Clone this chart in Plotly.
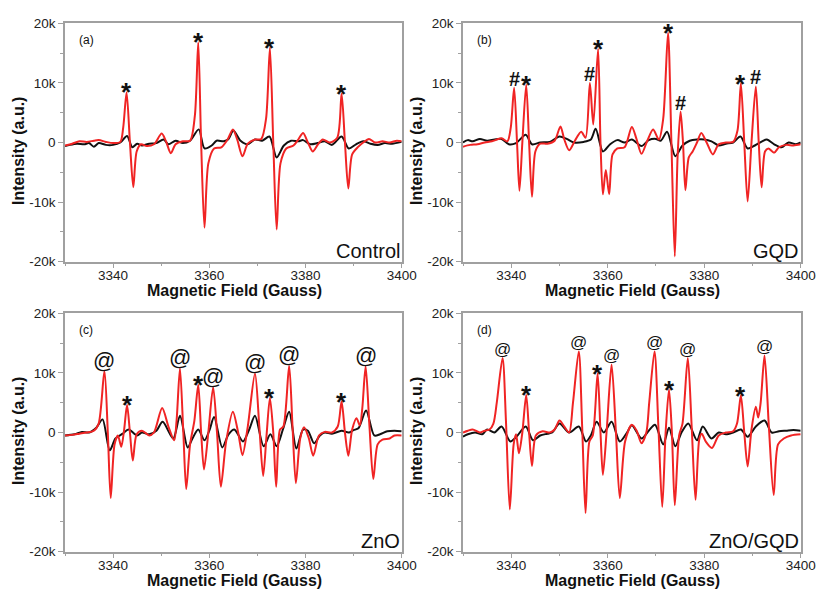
import plotly.graph_objects as go

# ---------------- EPR spectra (field in Gauss, intensity in k a.u.) ----------------
# (a) Control
ctrl_red_x = [3330, 3331.5, 3333, 3334.5, 3336, 3337, 3338.5, 3340, 3341.5, 3342.1, 3342.8, 3343.5, 3344.2, 3344.9,
              3345.8, 3347, 3348.5, 3350.1, 3351, 3352, 3353, 3354.5, 3356, 3357, 3357.7, 3358.3, 3359.0, 3359.8,
              3361, 3362.5, 3363.8, 3364.9, 3365.8, 3366.9, 3368, 3369.5, 3370.8, 3371.8, 3372.6, 3373.3, 3374.0,
              3374.8, 3376, 3377.5, 3378.5, 3379.5, 3380.5, 3381.5, 3382.6, 3383.6, 3385, 3386.6, 3387.5, 3388.2,
              3388.9, 3389.7, 3391, 3392, 3393.2, 3394.5, 3396, 3397.5, 3399, 3400]
ctrl_red_y = [-0.5, -0.2, 0.2, 0.1, 0.3, 0.4, 0.1, -0.1, 0.1, 2.5, 8.4, 0.0, -7.5, -1.5,
              -0.3, -0.6, -0.3, 1.5, 0.2, -1.8, -0.3, 0.2, 0.3, 4.5, 16.8, 0.0, -14.3, -3.5,
              -1.0, -0.8, 0.5, 2.2, 0.5, -2.3, -0.2, 0.5, 0.6, 4.0, 15.9, 0.0, -14.6,
              -3.5, -1.0, -0.5, 0.5, 1.6, 0.0, -1.5, -0.3, 0.5, 0.0, 0.8, 8.2, 0.0,
              -7.7, -2.0, -0.7, 0.0, 0.6, 0.0, 0.2, 0.0, 0.3, 0.2]
ctrl_blk_x = [3330, 3331, 3332.5, 3334, 3335, 3336, 3337, 3338.5, 3340, 3341.5, 3342.9, 3344, 3345, 3346, 3347.5,
              3349, 3350.5, 3351.5, 3353, 3354.5, 3356, 3357.8, 3359, 3360.5, 3361.5, 3363, 3364, 3365, 3366.5,
              3368, 3369.5, 3371, 3372.5, 3374.0, 3375.5, 3377, 3378.5, 3379.5, 3381, 3382.5, 3384, 3385.5,
              3387.5, 3389, 3390.5, 3392, 3393.5, 3395, 3396.5, 3398, 3400]
ctrl_blk_y = [-0.6, -0.4, -0.2, -0.3, -0.1, -0.7, -0.1, -0.4, -0.4, 0.0, 1.1, -0.8, -0.2, -0.5, -0.2,
              -0.1, 0.5, -0.3, 0.3, -0.1, 0.3, 2.2, -1.0, -0.5, 0.3, 0.2, 0.6, 2.0, 0.3,
              -0.3, 0.5, 0.3, 1.0, -2.5, -0.5, 0.3, 0.2, 0.4, -0.3, -0.1, 0.2, -0.4,
              1.0, -1.0, -0.3, 0.2, -0.2, -0.4, -0.1, -0.2, 0.1]

# (b) GQD
gqd_red_x = [3330, 3331.5, 3333, 3334.5, 3336, 3338, 3339.2, 3339.9, 3340.6, 3341.2, 3341.7, 3342.3, 3343.1, 3343.7,
             3344.3, 3345.0, 3346, 3347.5, 3349, 3350.2, 3351, 3352, 3353.2, 3354.5, 3355.4, 3356.3, 3357.0,
             3358.0, 3358.5, 3359.0, 3359.6, 3360.3, 3361, 3362, 3363.5, 3365.0, 3366, 3367.0, 3368.2, 3369.4,
             3370.6, 3371.5, 3372.5, 3373.2, 3373.9, 3374.5, 3375.1, 3375.6, 3376.1, 3376.8, 3377.6, 3378.5,
             3379.4, 3380.5, 3381.8, 3383, 3384.5, 3386, 3386.9, 3387.6, 3388.3, 3389.0, 3389.8, 3390.7,
             3391.3, 3391.9, 3392.6, 3393.3, 3394.5, 3395.5, 3397, 3398.5, 3400]
gqd_red_y = [-0.7, -0.4, -0.3, 0.0, 0.2, 0.7, 0.2, 2.5, 9.2, 0.0, -8.1, 0.0, 9.7, 0.0,
             -9.1, -1.5, -0.2, -0.2, 0.3, 2.7, 0.5, -1.3, 0.3, 1.8, 0.8, 10.0, 3.0,
             15.7, 0.0, -8.7, -4.6, -8.7, -2.0, -1.0, -0.8, 2.6, 0.5, -1.9, 0.3, 2.2,
             0.5, 4.0, 18.4, 0.0, -19.1, -2.0, 5.2, 0.0, -8.0, -2.5, -1.5, 0.0,
             1.6, 0.0, -2.0, -0.3, 0.0, 0.1, 2.0, 9.9, 0.0, -9.9, 0.0, 9.4,
             0.0, -7.5, -1.5, -1.0, -1.7, -0.8, -0.4, -0.5, -0.3]
gqd_blk_x = [3330, 3331, 3332, 3333.5, 3335, 3336.5, 3338, 3339.5, 3341, 3343, 3344.3, 3346, 3348, 3350, 3351.5,
             3353, 3355, 3356.5, 3357.5, 3359, 3360.5, 3362, 3363.5, 3365, 3367, 3368.5, 3370, 3371, 3372.3,
             3374, 3375.5, 3377, 3378.5, 3380, 3381.5, 3383, 3384.5, 3386, 3387.5, 3389, 3390.5, 3392, 3393,
             3394.5, 3396, 3397.5, 3399, 3400]
gqd_blk_y = [0.0, 0.4, 0.2, 0.6, 0.3, 0.5, 0.6, -0.3, -0.1, 1.3, -0.3, 0.0, 0.1, 1.0, 0.6,
             0.0, 0.1, 0.5, 2.3, -1.5, -0.3, 0.4, 0.0, 0.5, -0.6, 0.4, 0.6, 0.3, 1.8,
             -2.3, -0.5, 0.3, 0.5, 0.5, 0.2, -0.5, -0.2, 0.0, 1.0, -1.0, -0.5, 0.2, 0.5,
             -0.3, -0.8, 0.0, -0.3, 0.0]

# (c) ZnO
zno_red_x = [3330, 3331.5, 3333, 3334.5, 3336, 3337.0, 3338.2, 3338.9, 3339.5, 3340.3, 3341.0, 3341.7, 3342.3,
             3342.9, 3343.5, 3344.1, 3344.9, 3346, 3347.5, 3348.5, 3350.2, 3351.5, 3352.7, 3353.2, 3353.9,
             3354.6, 3355.2, 3356, 3356.9, 3357.7, 3358.3, 3358.9, 3359.8, 3360.8, 3361.6, 3362.4, 3363.5,
             3364.9, 3366.0, 3366.9, 3368.0, 3369.5, 3370.4, 3371.2, 3371.9, 3372.6, 3373.3, 3373.9, 3374.7,
             3375.4, 3376.6, 3377.3, 3378.0, 3378.9, 3379.7, 3380.7, 3381.6, 3382.8, 3384, 3385.5, 3386.7,
             3387.5, 3388.2, 3388.9, 3389.7, 3390.6, 3391.3, 3391.8, 3392.5, 3393.3, 3394.1, 3395.0, 3396,
             3397.5, 3398.5, 3400]
zno_red_y = [-0.5, -0.4, -0.2, 0.0, 0.3, 1.5, 10.3, 0.0, -11.0, -2.0, -0.5, -2.4, 0.5,
             4.6, 0.0, -4.7, -0.3, 0.3, -0.5, 0.0, 4.1, 1.0, -1.3, 2.0, 10.8,
             0.0, -9.5, -2.0, 2.0, 8.0, 0.0, -6.2, 0.0, 7.6, 0.0, -9.1, -1.5,
             3.5, 0.0, -3.8, 1.0, 9.9, 1.0, -7.3, -0.5, 5.8, 0.0, -9.1, 0.5,
             1.0, 11.2, 1.0, -8.5, -1.0, 0.9, -1.0, -3.9, -0.5, 0.1, 0.0, 1.0,
             5.2, 0.0, -3.9, 0.5, 2.4, 1.2, 4.0, 11.1, 1.0, -7.8, -2.0, -1.2,
             -1.0, -0.5, -0.5]
zno_blk_x = [3330, 3332, 3333.5, 3335, 3336.5, 3337.8, 3339.3, 3340.5, 3342, 3343.2, 3345, 3346, 3347.5, 3349,
             3350.3, 3352.5, 3353.9, 3355.5, 3356.5, 3357.7, 3359, 3360.0, 3361.0, 3362.7, 3364, 3365.2, 3367,
             3368.3, 3369.5, 3371.3, 3372.7, 3374.0, 3375.3, 3376.6, 3378.1, 3379.5, 3380.5, 3381.8, 3383,
             3384, 3385.5, 3387.5, 3389, 3390, 3391, 3392.6, 3394.3, 3395.5, 3397, 3398.5, 3400]
zno_blk_y = [-0.5, -0.3, 0.1, 0.0, 0.8, 2.2, -3.0, -1.0, -0.2, 0.5, -0.5, 0.0, -0.3, 0.3,
             1.8, -1.0, 2.8, -2.5, -1.0, 0.5, -1.3, 0.3, 2.6, -2.5, -0.3, 0.5, -1.5,
             0.5, 2.8, -2.3, -0.3, -2.3, 0.5, 3.5, -2.7, 0.5, 0.3, -1.8, -0.5,
             0.0, -0.2, 0.3, 0.0, 0.4, 0.7, 3.7, -0.5, -0.3, 0.2, 0.3, 0.2]

# (d) ZnO/GQD
zg_red_x = [3330, 3331, 3332, 3333.5, 3334.5, 3335.5, 3336.3, 3337.0, 3338.2, 3338.9, 3339.7, 3340.5, 3341.0,
            3341.6, 3342.3, 3343.1, 3343.7, 3344.3, 3345.1, 3346.5, 3348, 3349, 3350.0, 3351, 3352, 3352.8,
            3354.0, 3354.7, 3355.4, 3356.2, 3356.9, 3357.9, 3358.5, 3359.0, 3359.8, 3360.8, 3361.7, 3362.5,
            3363.6, 3365.0, 3366, 3367.0, 3368.0, 3368.6, 3369.7, 3370.5, 3371.3, 3372.0, 3372.7, 3373.3,
            3373.9, 3374.8, 3375.5, 3376.6, 3377.4, 3378.2, 3379.0, 3379.5, 3380.3, 3381.6, 3383, 3384.5,
            3386, 3386.8, 3387.6, 3388.3, 3389.0, 3389.8, 3390.7, 3391.2, 3391.7, 3392.5, 3393.4, 3394.4,
            3395.3, 3396.5, 3398, 3400]
zg_red_y = [0.0, 0.3, 0.5, 0.0, 0.3, 0.5, 1.5, 5.0, 12.5, 2.0, -12.9, -2.0, -0.3,
            -3.5, 0.0, 6.3, 0.0, -5.6, -0.5, 0.2, 0.0, 0.5, 2.0, 1.0, 0.0, 5.0,
            13.6, 1.0, -13.5, -1.5, -0.5, 9.9, 0.0, -7.1, 0.5, 11.4, 0.0, -11.0,
            -1.5, 1.3, 0.3, -1.8, 0.0, 5.0, 13.6, 1.0, -12.5, 0.0, 7.2, 0.0,
            -12.2, -0.5, 1.5, 12.5, 1.0, -11.3, -1.0, -0.2, -1.5, -2.6, -0.5, 0.0,
            0.2, 1.5, 6.2, 0.0, -5.7, 0.5, 4.3, 2.5, 5.0, 12.9, 1.0, -10.5,
            -2.0, -1.0, -0.5, -0.3]
zg_blk_x = [3330, 3331, 3332.5, 3334, 3335, 3336.5, 3338.0, 3339.8, 3341, 3343.0, 3344.5, 3346, 3347.5, 3348.5,
            3350.0, 3352.0, 3354.0, 3355.5, 3356.5, 3357.7, 3359.2, 3360.8, 3362.5, 3364, 3365.0, 3367.0,
            3368.5, 3369.8, 3371.5, 3372.7, 3374.0, 3375.3, 3376.7, 3378.5, 3379.7, 3381.5, 3383, 3384.5,
            3386, 3387.6, 3389.0, 3390.7, 3392.5, 3394.0, 3395.5, 3397, 3398.5, 3400]
zg_blk_y = [-0.7, -0.3, 0.0, -0.3, 0.5, 0.0, 1.0, -1.5, -0.8, 1.0, -1.3, -0.5, -0.2, 0.0,
            1.5, 0.0, 1.0, -1.5, -0.5, 1.8, 0.0, 1.8, -1.5, 0.0, 1.2, -1.0,
            0.3, 1.3, -2.0, 0.8, -2.3, 0.0, 1.5, -1.3, 1.0, -1.0, 0.0, -0.3,
            0.0, 0.5, -0.7, 1.0, 2.0, 0.0, 0.2, 0.3, 0.4, 0.3]

# peak markers: field position and symbol
ctrl_marks = [(3342.8, "*"), (3357.7, "*"), (3372.6, "*"), (3387.5, "*")]
gqd_marks = [(3340.6, "#"), (3343.1, "*"), (3356.3, "#"), (3358.0, "*"), (3372.5, "*"),
             (3375.1, "#"), (3387.6, "*"), (3390.7, "#")]
zno_marks = [(3338.2, "@"), (3342.9, "*"), (3353.9, "@"), (3357.7, "*"), (3360.8, "@"),
             (3369.5, "@"), (3372.6, "*"), (3376.6, "@"), (3387.5, "*"), (3392.5, "@")]
zg_marks = [(3338.2, "@"), (3343.1, "*"), (3354.0, "@"), (3357.9, "*"), (3360.8, "@"),
            (3369.7, "@"), (3372.7, "*"), (3376.6, "@"), (3387.6, "*"), (3392.5, "@")]

panel_tags = ["(a)", "(b)", "(c)", "(d)"]
sample_names = ["Control", "GQD", "ZnO", "ZnO/GQD"]
x_title = "Magnetic Field (Gauss)"
y_title = "Intensity (a.u.)"

y_tick_vals = [-20000, -10000, 0, 10000, 20000]
y_tick_text = ["-20k", "-10k", "0", "10k", "20k"]
x_tick_vals = [3340, 3360, 3380, 3400]

RED = "#F02424"
BLACK = "#111111"
AXIS = "#A0A0A0"
FONT = "Liberation Sans, Arial, sans-serif"

panels = [
    (ctrl_red_x, ctrl_red_y, ctrl_blk_x, ctrl_blk_y, ctrl_marks, 22),
    (gqd_red_x, gqd_red_y, gqd_blk_x, gqd_blk_y, gqd_marks, 22),
    (zno_red_x, zno_red_y, zno_blk_x, zno_blk_y, zno_marks, 22),
    (zg_red_x, zg_red_y, zg_blk_x, zg_blk_y, zg_marks, 17),
]

W, H = 816, 589
# plot-area boxes in pixels: (left, right, top, bottom)
boxes = [(65, 401.7, 23.3, 261.7), (463, 800.7, 23.3, 261.7),
         (65, 401.7, 313.3, 551.7), (463, 800.7, 313.3, 551.7)]
# vertical centre of the rotated y titles for each panel
y_title_mid = [151, 151, 431, 431]

fig = go.Figure()
layout = {}
annotations = []

for i, ((rx, ry, bx, by, marks, at_size), (l, r, t, b)) in enumerate(zip(panels, boxes)):
    n = "" if i == 0 else str(i + 1)
    xa, ya = "x" + n, "y" + n
    fig.add_trace(go.Scatter(x=bx, y=[v * 1000 for v in by], mode="lines",
                             line=dict(color=BLACK, width=2, shape="spline", smoothing=0.8),
                             xaxis=xa, yaxis=ya, showlegend=False, hoverinfo="skip"))
    fig.add_trace(go.Scatter(x=rx, y=[v * 1000 for v in ry], mode="lines",
                             line=dict(color=RED, width=2, shape="spline", smoothing=0.8),
                             xaxis=xa, yaxis=ya, showlegend=False, hoverinfo="skip"))

    common = dict(showline=True, linecolor=AXIS, linewidth=1.5, mirror=True, showgrid=False,
                  zeroline=False, ticks="outside", ticklen=5, tickwidth=1.2, tickcolor=AXIS,
                  automargin=False, tickfont=dict(family=FONT, size=13.5, color="#222222"))
    layout["xaxis" + n] = dict(
        common, domain=[l / W, r / W], anchor=ya, range=[3330, 3400],
        tickvals=x_tick_vals, ticklabelstandoff=-5,
        minor=dict(dtick=10, tick0=3330, ticks="outside", ticklen=3, tickcolor=AXIS))
    layout["yaxis" + n] = dict(
        common, domain=[1 - b / H, 1 - t / H], anchor=xa, range=[-20000, 20000],
        tickvals=y_tick_vals, ticktext=y_tick_text,
        minor=dict(dtick=5000, tick0=-20000, ticks="outside", ticklen=3, tickcolor=AXIS))

    # axis titles
    annotations.append(dict(xref="paper", yref="paper", x=((l + r) / 2 + 1) / W, y=1 - (b + 29) / H,
                            xanchor="center", yanchor="middle", text="<b>%s</b>" % x_title,
                            showarrow=False, font=dict(family=FONT, size=16, color="#111111")))
    annotations.append(dict(xref="paper", yref="paper", x=(l - 47) / W, y=1 - y_title_mid[i] / H,
                            xanchor="center", yanchor="middle", textangle=-90,
                            text="<b>%s</b>" % y_title,
                            showarrow=False, font=dict(family=FONT, size=16, color="#111111")))

    # panel tag and sample name
    annotations.append(dict(xref=xa + " domain", yref=ya + " domain", x=0.036, y=0.93,
                            xanchor="left", yanchor="middle", text=panel_tags[i], showarrow=False,
                            font=dict(family=FONT, size=12, color="#111111")))
    annotations.append(dict(xref=xa + " domain", yref=ya + " domain", x=1.0, y=0.045,
                            xanchor="right", yanchor="middle", text=sample_names[i], showarrow=False,
                            font=dict(family=FONT, size=20, color="#111111")))

    # peak symbols sitting above each red maximum
    for mx, sym in marks:
        my = ry[rx.index(mx)] * 1000
        if sym == "*":
            size, shift, txt = 26, 0, "<b>*</b>"
        elif sym == "#":
            size, shift, txt = 20, 9, "<b>#</b>"
        else:
            size, shift, txt = at_size, 11 if at_size > 18 else 9, "@"
        annotations.append(dict(xref=xa, yref=ya, x=mx, y=my, text=txt, showarrow=False,
                                xanchor="center", yanchor="middle", yshift=shift,
                                font=dict(family=FONT, size=size, color="#111111")))

fig.update_layout(
    width=W, height=H, margin=dict(l=0, r=0, t=0, b=0),
    paper_bgcolor="white", plot_bgcolor="white",
    annotations=annotations, **layout)

fig.write_html("out.html")
